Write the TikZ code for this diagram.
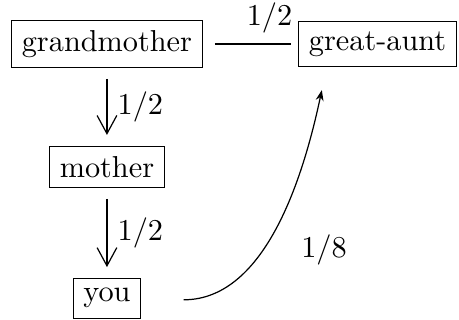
\documentclass[tikz,border=0pt]{standalone}
\usetikzlibrary{arrows.meta,positioning}

\begin{document}
\begin{tikzpicture}[
    person/.style={draw},
    gen/.style={-{Straight Barb[length=6pt,width=6.5pt]},shorten <=3.5pt,shorten >=3.5pt}]
  \useasboundingbox (0,0) rectangle (151.5pt,-105.6pt);
  \node[person] (grandma) at (35.3pt,-14.5pt) {grandmother};
  \node[person,right=31.5pt of grandma] (aunt) {great-aunt};
  \node[person,below=25.5pt of grandma] (mother) {mother};
  \node[person,below=29.5pt of mother] (you) {you};
  \draw[gen] (grandma) -- node[right] {$1/2$} (mother);
  \draw[gen] (mother) -- node[right] {$1/2$} (you);
  \draw[shorten <=4pt,shorten >=2.5pt] (grandma) -- node[above,pos=0.7] {$1/2$} (aunt);
  \draw[-{Stealth[length=3.5pt,width=2.6pt]}] ([xshift=14pt,yshift=-0.5pt]you.east)
    to[out=0,in=-102,looseness=0.85] node[pos=0.4,right=9pt] {$1/8$}
    ([xshift=7.8pt,yshift=-7.6pt]aunt.south west);
\end{tikzpicture}
\end{document}
